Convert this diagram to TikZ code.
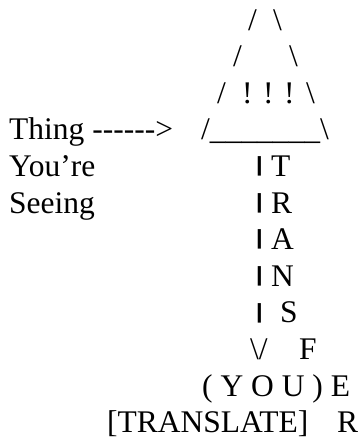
\documentclass[tikz,border=0pt]{standalone}
\usepackage{fontspec}
\setmainfont{Liberation Serif}[Ligatures=TeXOff]
\usepackage{graphicx}
\newcommand{\stembar}{\resizebox*{2\width}{0.62em}{\raisebox{\depth}{|}}}

\begin{document}
\begin{tikzpicture}[
    x=1pt, y=-1pt,
    every node/.style={inner sep=0pt, anchor=base west},
    ascii/.style={font=\fontsize{31.5}{36}\selectfont},
]
\useasboundingbox (0,0) rectangle (358,440);
% roof
\node[ascii] (roofal) at (248,30) {/};
\node[ascii] (roofar) at (273,30) {\textbackslash};
\node[ascii] (roofbl) at (233,66.6) {/};
\node[ascii] (roofbr) at (289,66.6) {\textbackslash};
\node[ascii] (roofcl) at (217,103.2) {/};
\node[ascii] (bang) at (242,103.2) {! ! !};
\node[ascii] (roofcr) at (306,103.2) {\textbackslash};
\node[ascii] (base) at (201,139.8) {/\_\_\_\_\_\_\_\textbackslash};
% left label
\node[ascii] (thing) at (9,139.8) {Thing ------>};
\node[ascii] (youre) at (9,176.4) {You’re};
\node[ascii] (seeing) at (9,213) {Seeing};
% stem
\node[ascii] (stema) at (253,176.4) {\stembar};
\node[ascii] (lett) at (271,176.4) {T};
\node[ascii] (stemb) at (253,213) {\stembar};
\node[ascii] (letr) at (271,213) {R};
\node[ascii] (stemc) at (253,249.6) {\stembar};
\node[ascii] (leta) at (271,249.6) {A};
\node[ascii] (stemd) at (253,286.2) {\stembar};
\node[ascii] (letn) at (271,286.2) {N};
\node[ascii] (steme) at (253,322.8) {\stembar};
\node[ascii] (lets) at (280,322.8) {S};
\node[ascii] (tip) at (250,359.4) {\textbackslash/};
\node[ascii] (letf) at (299,359.4) {F};
% bottom
\node[ascii] (you) at (202,396) {( Y O U ) E};
\node[ascii] (translate) at (107,432.6) {[TRANSLATE]};
\node[ascii] (letr2) at (337,432.6) {R};
\end{tikzpicture}
\end{document}
